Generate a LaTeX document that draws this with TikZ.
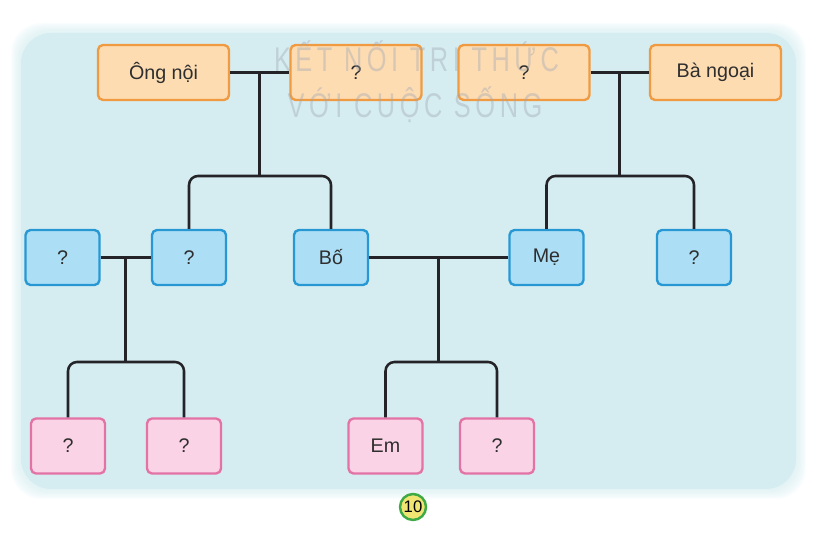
\documentclass[tikz,border=0pt]{standalone}
\usepackage{fontspec}
\usepackage{graphicx}
\setmainfont{Liberation Sans}
\usetikzlibrary{calc}
\definecolor{bgblue}{RGB}{213,237,240}
\definecolor{orfill}{RGB}{253,220,178}
\definecolor{ordraw}{RGB}{240,155,65}
\definecolor{blfill}{RGB}{172,222,245}
\definecolor{bldraw}{RGB}{40,152,212}
\definecolor{pkfill}{RGB}{250,212,230}
\definecolor{pkdraw}{RGB}{228,115,165}
\definecolor{linedark}{RGB}{35,35,40}
\definecolor{marktext}{RGB}{160,165,178}
\definecolor{numfill}{RGB}{240,228,115}
\definecolor{numdraw}{RGB}{62,170,70}

\begin{document}
\begin{tikzpicture}[line cap=round,line join=round,
  member/.style={rounded corners=0.1cm,line width=1.35pt,minimum height=1.10cm,inner sep=0pt,
    text=black!82,font=\fontsize{11.2}{13}\selectfont},
  grand/.style={member,draw=ordraw,fill=orfill,minimum width=2.62cm},
  parent/.style={member,draw=bldraw,fill=blfill,minimum width=1.48cm},
  kid/.style={member,draw=pkdraw,fill=pkfill,minimum width=1.48cm},
  link/.style={draw=linedark,line width=1.45pt,rounded corners=0.18cm,line cap=butt},
  watermark/.style={anchor=base,text=marktext,text opacity=0.4,inner sep=0pt,
    font=\fontsize{19.5}{20}\selectfont\addfontfeature{LetterSpace=18}},
  pagenum/.style={circle,draw=numdraw,fill=numfill,line width=1.4pt,minimum size=0.52cm,inner sep=0pt,
    font=\fontsize{9.5}{10}\selectfont}]
  \useasboundingbox (0,0) rectangle (16.78,11.12);
  \foreach \i in {1,...,8}{
    \fill[bgblue,opacity=0.12,rounded corners=0.6cm] (0.42-\i*0.025,1.34-\i*0.025) rectangle (15.92+\i*0.025,10.46+\i*0.025);
  }
  \fill[bgblue,rounded corners=0.6cm] (0.42,1.34) rectangle (15.92,10.46);

  \node[grand] (ong) at (3.27,9.67) {Ông nội};
  \node[grand] (bq) at (7.12,9.67) {?};
  \node[grand] (oq) at (10.48,9.67) {?};
  \node[grand] (ba) at (14.31,9.67) {Bà ngoại};

  \node[parent] (pq1) at (1.25,5.97) {?};
  \node[parent] (pq2) at (3.78,5.97) {?};
  \node[parent] (bo) at (6.62,5.97) {Bố};
  \node[parent] (me) at (10.93,5.97) {Mẹ};
  \node[parent] (pq3) at (13.88,5.97) {?};

  \node[kid] (cq1) at (1.36,2.20) {?};
  \node[kid] (cq2) at (3.68,2.20) {?};
  \node[kid] (em) at (7.71,2.20) {Em};
  \node[kid] (cq3) at (9.94,2.20) {?};

  \coordinate (noi) at ($(ong.east)!0.5!(bq.west)$);
  \coordinate (ngoai) at ($(oq.east)!0.5!(ba.west)$);
  \coordinate (cousin) at ($(pq1.east)!0.5!(pq2.west)$);
  \coordinate (home) at ($(bo.east)!0.5!(me.west)$);

  \draw[link] (ong.east) -- (bq.west);
  \draw[link] (oq.east) -- (ba.west);
  \draw[link] (pq1.east) -- (pq2.west);
  \draw[link] (bo.east) -- (me.west);

  \draw[link] (noi) -- (noi |- 0,7.60);
  \draw[link] (pq2.north) |- (noi |- 0,7.60) -| (bo.north);
  \draw[link] (ngoai) -- (ngoai |- 0,7.60);
  \draw[link] (me.north) |- (ngoai |- 0,7.60) -| (pq3.north);
  \draw[link] (cousin) -- (cousin |- 0,3.88);
  \draw[link] (cq1.north) |- (cousin |- 0,3.88) -| (cq2.north);
  \draw[link] (home) -- (home |- 0,3.88);
  \draw[link] (em.north) |- (home |- 0,3.88) -| (cq3.north);

  \node[watermark] (mark1) at (8.33,9.68) {\scalebox{0.74}[1]{KẾT NỐI TRI THỨC}};
  \node[watermark] (mark2) at (8.30,8.76) {\scalebox{0.74}[1]{VỚI CUỘC SỐNG}};

  \node[pagenum] (page) at (8.26,0.98) {10};
\end{tikzpicture}
\end{document}
